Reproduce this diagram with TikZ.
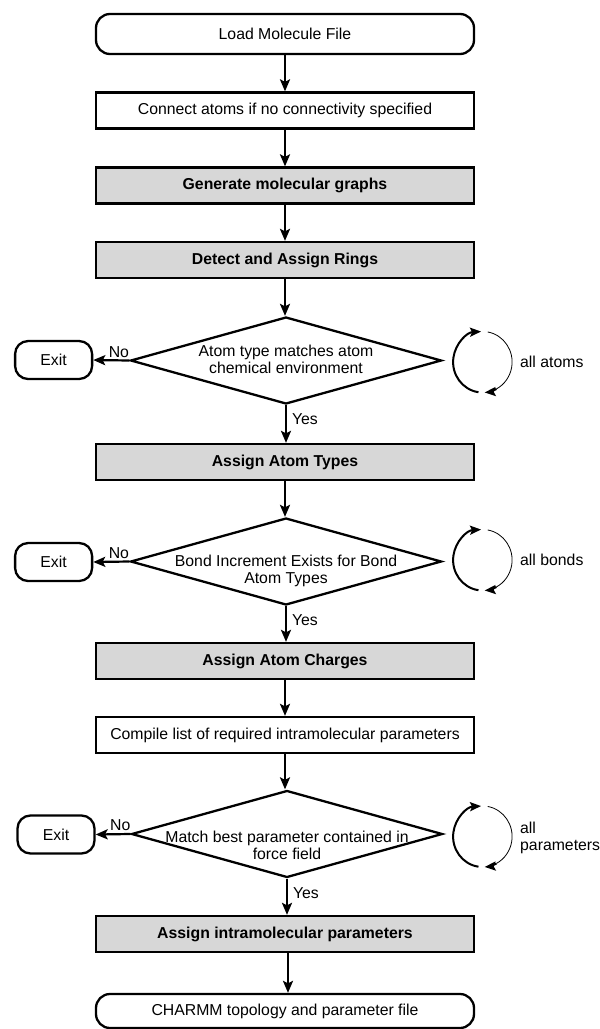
\documentclass[tikz,border=0pt]{standalone}
\usepackage{fontspec}
\setmainfont{Liberation Sans}
\usetikzlibrary{shapes.geometric,arrows.meta,calc}
\definecolor{boxgray}{HTML}{D7D7D7}
\begin{document}
\begin{tikzpicture}[x=1pt,y=1pt,
  every node/.style={font=\fontsize{15.8}{17}\selectfont},
  box/.style={draw, line width=2.3pt, minimum width=378pt, minimum height=36pt, inner sep=0pt},
  graybox/.style={box, fill=boxgray, font=\fontsize{15.8}{17}\selectfont\bfseries},
  term/.style={box, rounded corners=14pt, minimum height=40pt},
  exitbox/.style={draw, line width=2.3pt, rounded corners=13pt, minimum width=77pt, minimum height=38pt, inner sep=0pt},
  dia/.style={diamond, draw, line width=2.3pt, minimum width=311pt, minimum height=87pt, inner sep=0pt},
  flow/.style={line width=2.2pt, -{Stealth[length=12pt,width=10pt,inset=2.5pt]}},
  lbl/.style={inner sep=2pt},
  loopthick/.style={line width=2pt, -{Stealth[length=11pt,width=9pt,inset=2pt]}},
  loopthin/.style={line width=0.8pt},
]
\useasboundingbox (0,0) rectangle (600,-1029);

\node[term] (load) at (285,-34) {Load Molecule File};
\node[box] (conn) at (285,-110.5) {Connect atoms if no connectivity specified};
\node[graybox] (gen) at (285,-185.5) {Generate molecular graphs};
\node[graybox] (rings) at (285,-260) {Detect and Assign Rings};
\node[dia] (d1) at (286,-360.5) {\smash{\makebox[0pt]{\raisebox{-4.5pt}{\begin{tabular}{@{}c@{}}Atom type matches atom\\chemical environment\end{tabular}}}}};
\node[exitbox] (e1) at (53.6,-360) {Exit};
\node[graybox] (types) at (285,-462) {Assign Atom Types};
\node[dia] (d2) at (286,-561.5) {\smash{\makebox[0pt]{\raisebox{-14pt}{\begin{tabular}{@{}c@{}}Bond Increment Exists for Bond\\Atom Types\end{tabular}}}}};
\node[exitbox] (e2) at (53.6,-562) {Exit};
\node[graybox] (charges) at (285,-661) {Assign Atom Charges};
\node[box] (comp) at (285,-735) {Compile list of required intramolecular parameters};
\node[dia] (d3) at (287,-834) {\smash{\makebox[0pt]{\raisebox{-17pt}{\begin{tabular}{@{}c@{}}Match best parameter contained in\\force field\end{tabular}}}}};
\node[exitbox] (e3) at (56,-834.5) {Exit};
\node[graybox] (intra) at (285,-934) {Assign intramolecular parameters};
\node[term, minimum height=34pt] (charmm) at (285,-1011) {CHARMM topology and parameter file};

\draw[flow] (load.south) -- (load.south |- conn.north);
\draw[flow] (conn.south) -- (conn.south |- gen.north);
\draw[flow] (gen.south) -- (gen.south |- rings.north);
\draw[flow] (rings.south) -- (rings.south |- d1.north);
\draw[flow] (d1.south) -- (d1.south |- types.north) node[lbl, pos=0.36, right, xshift=3pt] {Yes};
\draw[flow] (d1.west) -- (e1.east) node[lbl, pos=0.29, above] {No};
\draw[flow] (types.south) -- (types.south |- d2.north);
\draw[flow] (d2.south) -- (d2.south |- charges.north) node[lbl, pos=0.38, right, xshift=3pt] {Yes};
\draw[flow] (d2.west) -- (e2.east) node[lbl, pos=0.29, above] {No};
\draw[flow] (charges.south) -- (charges.south |- comp.north);
\draw[flow] (comp.south) -- (comp.south |- d3.north);
\draw[flow] (d3.south) -- (d3.south |- intra.north) node[lbl, pos=0.4, right, xshift=3pt] {Yes};
\draw[flow] (d3.west) -- (e3.east) node[lbl, pos=0.29, above] {No};
\draw[flow] ([xshift=3pt]intra.south) -- ([xshift=3pt]intra.south |- charmm.north);

% iteration loops
\foreach \cy/\nm in {-362/1, -560/2, -836.5/3} {
  \coordinate (c\nm) at (482.6,\cy);
  \draw[loopthick] ($(c\nm)+(262:29.5 and 30.5)$) arc[start angle=262, end angle=93, x radius=29.5, y radius=30.5];
  \draw[loopthin] ($(c\nm)+(80:29.5 and 30.5)$) arc[start angle=80, end angle=-62, x radius=29.5, y radius=30.5];
  \draw[loopthick] ($(c\nm)+(-62:29.5 and 30.5)$) arc[start angle=-62, end angle=-86, x radius=29.5, y radius=30.5];
}
\node[anchor=west, inner sep=0pt] (l1) at (520,-362) {all atoms};
\node[anchor=west, inner sep=0pt] (l2) at (520,-560) {all bonds};
\node[anchor=west, align=left, inner sep=0pt] (l3) at (520,-838) {all\\parameters};
\end{tikzpicture}
\end{document}
